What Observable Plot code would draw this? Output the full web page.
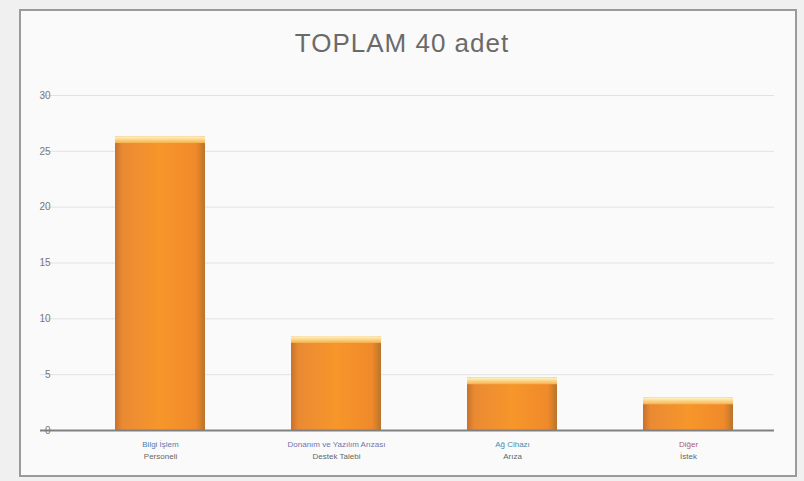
<!DOCTYPE html>
<html>
<head>
<meta charset="utf-8">
<script src="https://cdn.jsdelivr.net/npm/d3@7"></script>
<script src="https://cdn.jsdelivr.net/npm/@observablehq/plot@0.6"></script>
<style>
  html, body { margin: 0; padding: 0; background: #f0f0f0; }
  #wrap { position: relative; width: 804px; height: 481px; background: #f0f0f0; overflow: hidden; font-family: "Liberation Sans", Arial, sans-serif; }
  #frame { position: absolute; left: 19px; top: 9px; width: 778px; height: 468px; border: 2px solid #9a9a9a; background: #fafafa; box-sizing: border-box; }
  #title { position: absolute; left: 0; top: 28px; width: 804px; text-align: center; font-size: 26px; color: #6a6a6a; letter-spacing: 1px; }
  #chart { position: absolute; left: 0; top: 75px; }
</style>
</head>
<body>
<div id="wrap">
  <div id="frame"></div>
  <div id="title">TOPLAM 40 adet</div>
  <div id="chart"></div>
</div>
<script>
const categories = ["Bilgi İşlem\nPersoneli", "Donanım ve Yazılım Arızası\nDestek Talebi", "Ağ Cihazı\nArıza", "Diğer\nİstek"];
const values = [26.3, 8.4, 4.7, 2.9];
const yTicks = [0, 5, 10, 15, 20, 25, 30];
const labelColors = ["#4f7fae", "#6f74b0", "#4f8aa8", "#b05a6a"];

const data = categories.map((c, i) => ({category: c, value: values[i]}));

const plot = Plot.plot({
  width: 804,
  height: 406,
  marginLeft: 40,
  marginRight: 30,
  marginTop: 20,
  marginBottom: 51,
  style: {background: "transparent", fontFamily: "Liberation Sans, Arial, sans-serif"},
  x: {domain: categories, range: [72, 776], paddingInner: 0.49, paddingOuter: 0.245, label: null, axis: null},
  y: {domain: [0, 30], ticks: yTicks, label: null, grid: false},
  marks: [
    () => {
      const ns = "http://www.w3.org/2000/svg";
      const defs = document.createElementNS(ns, "defs");
      defs.innerHTML = `
        <linearGradient id="barGrad" x1="0" y1="0" x2="1" y2="0">
          <stop offset="0" stop-color="#c8702a"/>
          <stop offset="0.08" stop-color="#e98a34"/>
          <stop offset="0.5" stop-color="#f7962a"/>
          <stop offset="0.9" stop-color="#f08a2a"/>
          <stop offset="1" stop-color="#b8742c"/>
        </linearGradient>
        <linearGradient id="topGrad" x1="0" y1="0" x2="0" y2="1">
          <stop offset="0" stop-color="#fff6c8"/>
          <stop offset="1" stop-color="#f6b24a"/>
        </linearGradient>`;
      return defs;
    },
    Plot.gridY(yTicks, {stroke: "#e2e2e2", strokeOpacity: 1}),
    Plot.barY(data, {x: "category", y: "value", fill: "url(#barGrad)"}),
    Plot.barY(data, {x: "category", y1: d => d.value, y2: d => Math.max(0, d.value - 0.6), fill: "url(#topGrad)"}),
    Plot.ruleY([0], {stroke: "#808080", strokeWidth: 2}),
    Plot.axisY({ticks: yTicks, tickSize: 0, tickPadding: 0, dx: 10, fill: "#777", fontSize: 10, label: null}),
    Plot.text(data, {x: "category", frameAnchor: "bottom", dy: 16, text: d => d.category.split("\n")[0], fill: (d, i) => labelColors[i], fontSize: 8}),
    Plot.text(data, {x: "category", frameAnchor: "bottom", dy: 28, text: d => d.category.split("\n")[1], fill: "#666", fontSize: 8})
  ]
});
document.getElementById("chart").appendChild(plot);
</script>
</body>
</html>
